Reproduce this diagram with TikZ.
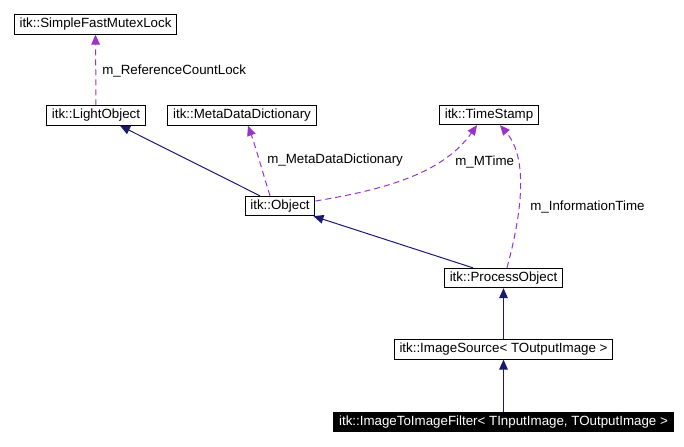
\documentclass[tikz,border=0pt]{standalone}
\usepackage{fontspec}
\setmainfont{Liberation Sans}
\usetikzlibrary{arrows.meta}
\definecolor{inherit}{HTML}{191970}
\definecolor{member}{HTML}{9A32CD}
\tikzset{
    cls/.style={draw=black, line width=0.75pt, inner xsep=4pt, inner ysep=0pt,
        minimum height=14.5pt, font=\fontsize{10}{12}\selectfont},
    cur/.style={cls, fill=black, text=white},
    isa/.style={draw=inherit, line width=0.75pt, -{Triangle[length=7.5pt,width=6.5pt]}},
    uses/.style={draw=member, line width=0.75pt, dash pattern=on 4.5pt off 3pt,
        -{Triangle[length=7.5pt,width=6.5pt]}},
    lbl/.style={anchor=west, inner sep=0pt, font=\fontsize{10}{12}\selectfont},
}
\begin{document}
\begin{tikzpicture}[x=0.75pt, y=-0.75pt]
            \useasboundingbox (0,0) rectangle (684,446);

                \node[cls] (mutex) at (95.5,24.5) {itk::SimpleFastMutexLock};
                \node[cls] (light) at (96,115.5) {itk::LightObject};
                \node[cls] (meta) at (242,115.5) {itk::MetaDataDictionary};
                \node[cls] (stamp) at (489,115) {itk::TimeStamp};
                \node[cls] (obj) at (280,206) {itk::Object};
                \node[cls] (proc) at (503.5,278) {itk::ProcessObject};
                \node[cls] (src) at (503.5,349.5) {itk::ImageSource< TOutputImage >};
                \node[cur] (filt) at (503.5,422) {itk::ImageToImageFilter< TInputImage, TOutputImage >};

                \draw[uses] (light.north) -- (mutex.south);
                \draw[isa] ([xshift=-15pt]obj.north) -- ([xshift=18pt]light.south);
                \draw[uses] ([xshift=-7.5pt]obj.north) .. controls (262,170) and (255,145) .. ([xshift=4.5pt]meta.south);
                \draw[uses] ([yshift=3.75pt]obj.east) .. controls (395,188) and (445,170) .. ([xshift=-9pt]stamp.south);
                \draw[isa] ([xshift=-22.9pt]proc.north) -- ([xshift=-1.5pt]obj.south east);
                \draw[uses] ([xshift=2.6pt]proc.north) .. controls (520,220) and (530,160) .. ([xshift=8.25pt]stamp.south);
                \draw[isa] (src.north) -- (proc.south);
                \draw[isa] (filt.north) -- (src.south);

                \node[lbl] (lref) at (102,71) {m\_ReferenceCountLock};
                \node[lbl] (lmeta) at (267,160) {m\_MetaDataDictionary};
                \node[lbl] (lmtime) at (455,162) {m\_MTime};
                \node[lbl] (linfo) at (530,207) {m\_InformationTime};
\end{tikzpicture}
\end{document}
